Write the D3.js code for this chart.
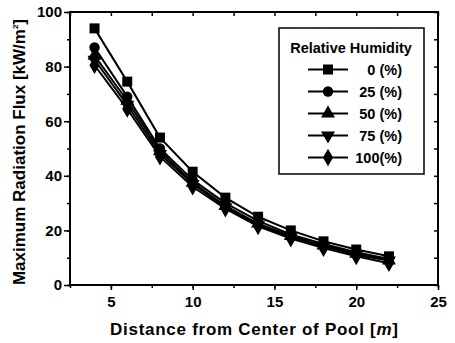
<!DOCTYPE html>
<html><head><meta charset="utf-8">
<script src="https://cdn.jsdelivr.net/npm/d3@7/dist/d3.min.js"></script>
<style>body{margin:0;background:#fff}svg{display:block}</style>
</head><body>
<script>
const distances = [4, 6, 8, 10, 12, 14, 16, 18, 20, 22];
const rh0   = [94, 74.5, 54, 41.5, 32, 25, 20, 16, 13, 10.5];
const rh25  = [87, 69, 50, 38.5, 30, 23.5, 18.5, 15, 12, 9.5];
const rh50  = [84, 67.5, 49, 37.5, 29, 22.5, 18, 14.5, 11.5, 9];
const rh75  = [82.5, 66, 48, 37, 28.5, 22, 17.5, 14, 11, 9];
const rh100 = [80.5, 64.5, 47, 36, 28, 21.5, 17, 13.5, 10.5, 8];
const seriesNames = ["0 (%)", "25 (%)", "50 (%)", "75 (%)", "100(%)"];
const xTicks = [5, 10, 15, 20, 25];
const yTicks = [0, 20, 40, 60, 80, 100];
const legendTitle = "Relative Humidity";
const xTitle = "Distance from Center of Pool [";
const yTitle = "Maximum Radiation Flux [kW/m";

const W = 455, H = 343;
const m = {l: 70, r: 17, t: 12, b: 58};
const svg = d3.select("body").append("svg").attr("width", W).attr("height", H);
const x = d3.scaleLinear().domain([2.5, 25]).range([m.l, W - m.r]);
const y = d3.scaleLinear().domain([0, 100]).range([H - m.b, m.t]);
const font = "'Liberation Sans', Arial, sans-serif";

const series = [rh0, rh25, rh50, rh75, rh100];
const symbols = [d3.symbolSquare, d3.symbolCircle, d3.symbolTriangle, d3.symbolTriangle, d3.symbolDiamond];
const symSize = [100, 85, 85, 85, 90];
const rot = [0, 0, 0, 180, 0];

// axes
const xMinor = d3.range(2.5, 25.01, 2.5);
const yMinor = d3.range(0, 100.01, 10);
function styleAxis(g){ g.select(".domain").remove(); g.selectAll("line").attr("stroke","#000").attr("stroke-width",1.5); }

svg.append("g").attr("transform",`translate(0,${y(0)})`)
  .call(d3.axisBottom(x).tickValues(xMinor).tickSize(3).tickFormat(""))
  .call(styleAxis);
const xa = svg.append("g").attr("transform",`translate(0,${y(0)})`)
  .call(d3.axisBottom(x).tickValues(xTicks).tickSize(5).tickPadding(6))
  .call(styleAxis);
xa.selectAll("text").attr("font-family",font).attr("font-weight","bold").attr("font-size",15).attr("fill","#000");

svg.append("g").attr("transform",`translate(${x(2.5)},0)`)
  .call(d3.axisLeft(y).tickValues(yMinor).tickSize(3).tickFormat(""))
  .call(styleAxis);
const ya = svg.append("g").attr("transform",`translate(${x(2.5)},0)`)
  .call(d3.axisLeft(y).tickValues(yTicks).tickSize(6).tickPadding(2))
  .call(styleAxis);
ya.selectAll("text").attr("font-family",font).attr("font-weight","bold").attr("font-size",15).attr("fill","#000");

svg.append("g").attr("transform",`translate(0,${y(100)})`)
  .call(d3.axisBottom(x).tickValues(xMinor).tickSize(4).tickFormat(""))
  .call(styleAxis);
svg.append("g").attr("transform",`translate(${x(25)},0)`)
  .call(d3.axisLeft(y).tickValues(yMinor).tickSize(4).tickFormat(""))
  .call(styleAxis);

svg.append("rect").attr("x",x(2.5)).attr("y",y(100)).attr("width",x(25)-x(2.5)).attr("height",y(0)-y(100))
  .attr("fill","none").attr("stroke","#000").attr("stroke-width",2);

// series
const line = d3.line().x((d,i)=>x(distances[i])).y(d=>y(d));
series.forEach((s,k)=>{
  svg.append("path").datum(s).attr("d",line).attr("fill","none").attr("stroke","#000").attr("stroke-width",2);
});
series.forEach((s,k)=>{
  svg.append("g").selectAll("path").data(s).join("path")
    .attr("d", d3.symbol().type(symbols[k]).size(symSize[k]))
    .attr("transform",(d,i)=>`translate(${x(distances[i])},${y(d)}) rotate(${rot[k]})`)
    .attr("fill","#000");
});

// legend
const lg = svg.append("g");
lg.append("rect").attr("x",279).attr("y",28).attr("width",145).attr("height",146)
  .attr("fill","#fff").attr("stroke","#000").attr("stroke-width",1.5);
lg.append("text").attr("x",351).attr("y",53).attr("text-anchor","middle")
  .attr("font-family",font).attr("font-weight","bold").attr("font-size",14.5).text(legendTitle);
seriesNames.forEach((n,k)=>{
  const yy = 69.5 + k*22;
  lg.append("line").attr("x1",308).attr("x2",348).attr("y1",yy).attr("y2",yy).attr("stroke","#000").attr("stroke-width",2);
  lg.append("path").attr("d", d3.symbol().type(symbols[k]).size(symSize[k]))
    .attr("transform",`translate(328,${yy}) rotate(${rot[k]})`).attr("fill","#000");
  lg.append("text").attr("x",402).attr("y",yy+5).attr("text-anchor","end")
    .attr("font-family",font).attr("font-weight","bold").attr("font-size",14.5).text(n);
});

// titles
const xt = svg.append("text").attr("x",254).attr("y",335).attr("text-anchor","middle")
  .attr("font-family",font).attr("font-weight","bold").attr("font-size",17)
  .attr("textLength",288).attr("lengthAdjust","spacing");
xt.append("tspan").text(xTitle);
xt.append("tspan").attr("font-style","italic").text("m");
xt.append("tspan").text("]");

const yt = svg.append("text").attr("transform",`translate(25,152) rotate(-90)`).attr("text-anchor","middle")
  .attr("font-family",font).attr("font-weight","bold").attr("font-size",17);
yt.append("tspan").text(yTitle);
yt.append("tspan").attr("font-size",8).attr("dy",-7).text("2");
yt.append("tspan").attr("dy",7).text("]");
</script>
</body></html>
